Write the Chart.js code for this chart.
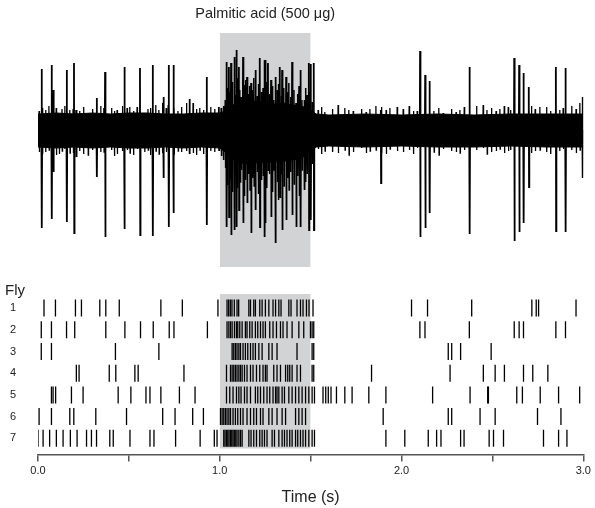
<!DOCTYPE html>
<html>
<head>
<meta charset="utf-8">
<script src="https://cdn.jsdelivr.net/npm/chart.js@4.4.1/dist/chart.umd.min.js"></script>
<style>
  body { margin: 0; background: #fff; width: 595px; height: 508px; position: relative; overflow: hidden; }
  #trace { position: absolute; left: 0; top: 0; }
  #raster { position: absolute; left: 0; top: 275px; }
</style>
</head>
<body>
<canvas id="trace" width="595" height="275"></canvas>
<canvas id="raster" width="595" height="233"></canvas>
<script>
// stimulus window (s)
const stimStart = 1.0;
const stimEnd = 1.5;
const stimLabel = "Palmitic acid (500 \u03bcg)";

// recording trace: large spikes (time, upward peak, downward peak)
const spikeTimes = [0.02, 0.075, 0.084, 0.158, 0.198, 0.21, 0.323, 0.369, 0.475, 0.561, 0.631, 0.69, 0.719, 0.745, 0.833, 0.928, 0.995,
  1.037, 1.05, 1.062, 1.08, 1.092, 1.105, 1.128, 1.15, 1.172, 1.196, 1.22, 1.246, 1.251, 1.265, 1.282, 1.306, 1.33, 1.343, 1.365, 1.398, 1.42, 1.444, 1.465, 1.49, 1.5, 1.517,
  1.886, 2.102, 2.13, 2.154, 2.374, 2.62, 2.647, 2.671, 2.70, 2.849, 2.902, 2.996];
const spikeUp = [61, 65, 40, 60, 67, 20, 32, 58, 63, 62, 65, 33, 65, 65, 31, 53, 23,
  68, 63, 67, 73, 80, 63, 73, 53, 47, 60, 72, 70, 70, 67, 50, 53, 63, 60, 53, 68, 27, 60, 30, 67, 66, 67,
  20, 79, 55, 49, 63, 72, 65, 57, 43, 63, 62, 33];
const spikeDown = [-98, -89, -42, -92, -103, -27, -47, -107, -99, -105, -106, -48, -97, -83, -24, -95, -20,
  -97, -87, -105, -100, -97, -80, -93, -73, -103, -80, -97, -107, -93, -40, -87, -113, -67, -100, -90, -85, -97, -97, -60, -100, -90, -100,
  -53, -107, -98, -83, -104, -111, -102, -93, -57, -101, -102, -48];

// recording trace: small noise peaks outside the stimulus
const noiseTimes = [0.006, 0.025, 0.042, 0.06, 0.1, 0.116, 0.132, 0.147, 0.175, 0.193, 0.229, 0.25, 0.275, 0.3, 0.345, 0.362, 0.404, 0.42, 0.435, 0.464, 0.49, 0.505, 0.525, 0.545, 0.587, 0.605, 0.619, 0.648, 0.665, 0.685, 0.705, 0.716, 0.747, 0.77, 0.789, 0.817, 0.853, 0.872, 0.89, 0.91, 0.95, 0.972,
  1.541, 1.56, 1.578, 1.62, 1.651, 1.688, 1.71, 1.734, 1.78, 1.805, 1.826, 1.859, 1.89, 1.915, 1.936, 1.976, 2.009, 2.042, 2.065, 2.086, 2.178, 2.205, 2.229, 2.275, 2.3, 2.321, 2.345, 2.413, 2.449, 2.47, 2.495, 2.52, 2.541, 2.565, 2.587, 2.6, 2.715, 2.735, 2.761, 2.798, 2.82, 2.87, 2.889, 2.936, 2.96, 2.981];
const noiseUp = [19, 22, 20, 24, 22, 15, 21, 24, 20, 21, 19, 23, 17, 21, 24, 22, 22, 19, 20, 24, 22, 23, 19, 23, 17, 21, 22, 25, 20, 27, 22, 25, 22, 19, 23, 27, 27, 21, 22, 20, 23, 21,
  20, 23, 18, 21, 25, 22, 20, 19, 21, 18, 21, 24, 23, 20, 22, 23, 21, 24, 19, 19, 19, 22, 17, 21, 18, 20, 23, 24, 25, 20, 22, 19, 21, 24, 23, 20, 24, 21, 23, 23, 19, 20, 22, 24, 21, 27];
const noiseDown = [-22, -24, -22, -20, -25, -24, -21, -19, -23, -23, -21, -24, -25, -20, -22, -22, -20, -26, -24, -21, -20, -23, -25, -19, -22, -20, -25, -21, -24, -23, -22, -20, -24, -21, -22, -21, -23, -25, -20, -24, -21, -22,
  -19, -24, -21, -22, -23, -20, -25, -22, -18, -23, -21, -20, -23, -24, -19, -21, -22, -20, -24, -18, -22, -25, -19, -21, -22, -23, -20, -20, -18, -24, -22, -21, -19, -23, -21, -20, -23, -21, -20, -22, -24, -21, -19, -20, -23, -20];

// recording trace: dense medium peaks during the stimulus
const stimNoiseTimes = [1.008, 1.02, 1.03, 1.043, 1.055, 1.07, 1.085, 1.098, 1.11, 1.118, 1.135, 1.142, 1.158, 1.165, 1.18, 1.188, 1.205, 1.212, 1.228, 1.238,
  1.258, 1.272, 1.29, 1.298, 1.315, 1.322, 1.338, 1.352, 1.372, 1.38, 1.39, 1.408, 1.428, 1.436, 1.452, 1.472, 1.48, 1.495, 1.508];
const stimNoiseUp = [22, 24, 30, 42, 38, 48, 35, 52, 40, 33, 45, 50, 36, 44, 40, 52, 34, 46, 38, 42,
  48, 36, 44, 30, 40, 46, 34, 42, 38, 47, 33, 40, 36, 44, 30, 42, 35, 38, 28];
const stimNoiseDown = [-26, -30, -38, -55, -48, -62, -45, -58, -52, -40, -66, -50, -44, -60, -48, -56, -42, -64, -50, -46,
  -58, -44, -62, -40, -52, -70, -45, -56, -48, -60, -42, -54, -46, -66, -40, -52, -44, -50, -34];

// recording trace: background noise band envelope
const envTimes = [0, 0.1, 0.2, 0.3, 0.4, 0.5, 0.6, 0.7, 0.8, 0.9, 1.0, 1.03, 1.06, 1.1, 1.15, 1.2, 1.25, 1.3, 1.35, 1.4, 1.45, 1.5, 1.53, 1.6, 1.8, 2.0, 2.2, 2.4, 2.6, 2.8, 3.0];
const envUpper = [16, 17, 16, 17, 16, 17, 17, 16, 16, 17, 17, 19, 24, 27, 28, 29, 27, 26, 27, 25, 24, 20, 16, 15, 16, 15, 16, 15, 16, 16, 16];
const envLower = [-17, -18, -17, -18, -17, -18, -18, -17, -18, -17, -18, -22, -28, -32, -34, -33, -32, -32, -31, -30, -28, -22, -17, -16, -17, -16, -17, -17, -16, -17, -17];

// raster: spike times per fly (s)
const flyLabels = ["1", "2", "3", "4", "5", "6", "7"];
const fly1 = [0.033, 0.096, 0.206, 0.239, 0.340, 0.373, 0.447, 0.676, 0.794, 0.99,
  1.040, 1.049, 1.058, 1.067, 1.080, 1.095, 1.104, 1.160, 1.169, 1.187, 1.196, 1.220, 1.233, 1.251, 1.270, 1.293, 1.307, 1.325, 1.337, 1.380, 1.392, 1.425, 1.444, 1.458, 1.477, 1.491, 1.513,
  2.055, 2.143, 2.386, 2.717, 2.741, 2.754, 2.960];
const fly2 = [0.018, 0.074, 0.157, 0.202, 0.373, 0.478, 0.564, 0.634, 0.722, 0.748, 0.932,
  1.040, 1.050, 1.059, 1.068, 1.081, 1.092, 1.099, 1.110, 1.123, 1.141, 1.150, 1.165, 1.178, 1.196, 1.209, 1.224, 1.238, 1.251, 1.275, 1.293, 1.312, 1.334, 1.348, 1.370, 1.398, 1.435, 1.462, 1.499, 1.508, 1.517,
  2.101, 2.129, 2.373, 2.620, 2.647, 2.671, 2.849, 2.902];
const fly3 = [0.018, 0.074, 0.426, 0.665,
  1.068, 1.077, 1.086, 1.095, 1.105, 1.114, 1.128, 1.141, 1.154, 1.169, 1.183, 1.196, 1.215, 1.233, 1.270, 1.288, 1.315, 1.425, 1.508, 1.517,
  2.257, 2.276, 2.325, 2.493];
const fly4 = [0.211, 0.226, 0.392, 0.428, 0.533, 0.551, 0.803,
  1.037, 1.059, 1.068, 1.077, 1.086, 1.095, 1.105, 1.114, 1.123, 1.136, 1.150, 1.169, 1.183, 1.202, 1.220, 1.238, 1.251, 1.260, 1.297, 1.315, 1.334, 1.362, 1.374, 1.385, 1.398, 1.425, 1.444, 1.508, 1.517,
  1.835, 2.267, 2.450, 2.515, 2.566, 2.671, 2.722, 2.805];
const fly5 = [0.074, 0.083, 0.097, 0.184, 0.248, 0.441, 0.511, 0.594, 0.616, 0.676, 0.778, 0.864,
  1.037, 1.055, 1.073, 1.092, 1.105, 1.117, 1.136, 1.150, 1.169, 1.196, 1.209, 1.224, 1.242, 1.260, 1.275, 1.293, 1.307, 1.315, 1.325, 1.343, 1.356, 1.380, 1.398, 1.417, 1.435, 1.453, 1.472, 1.490, 1.508, 1.521,
  1.568, 1.583, 1.597, 1.612, 1.642, 1.688, 1.728, 1.820, 1.914, 2.171, 2.377, 2.474, 2.478, 2.634, 2.665, 2.763, 2.864, 2.980];
const fly6 = [0.006, 0.074, 0.175, 0.197, 0.318, 0.487, 0.686, 0.754, 0.851, 0.910,
  1.004, 1.013, 1.022, 1.031, 1.040, 1.050, 1.059, 1.073, 1.086, 1.099, 1.114, 1.128, 1.150, 1.169, 1.187, 1.202, 1.224, 1.238, 1.270, 1.288, 1.315, 1.343, 1.362, 1.417, 1.435, 1.453, 1.472,
  1.899, 2.257, 2.276, 2.432, 2.515, 2.748, 2.877];
const fly7 = [0.0, 0.028, 0.064, 0.101, 0.138, 0.178, 0.215, 0.267, 0.294, 0.322, 0.395, 0.414, 0.506, 0.616, 0.638, 0.757, 0.892, 0.970, 0.985,
  1.022, 1.029, 1.037, 1.044, 1.051, 1.059, 1.066, 1.073, 1.080, 1.088, 1.095, 1.105, 1.114, 1.123, 1.160, 1.172, 1.187, 1.202, 1.220, 1.233, 1.246, 1.260, 1.288, 1.301, 1.325, 1.343, 1.356, 1.370, 1.385, 1.398, 1.417, 1.429, 1.444, 1.458, 1.472, 1.490, 1.508, 1.521,
  1.914, 2.018, 2.147, 2.193, 2.217, 2.325, 2.344, 2.482, 2.506, 2.561, 2.781, 2.864, 2.910];
const flies = [fly1, fly2, fly3, fly4, fly5, fly6, fly7];

const xTicks = [0, 0.5, 1, 1.5, 2, 2.5, 3];
const shade = "#d2d3d5";
const ink = "#000";
const font = "'Liberation Sans', Arial, sans-serif";

// each spike goes up then down and returns to baseline
function spikePoints(times, ups, downs) {
  const pts = [];
  times.forEach((t, i) => {
    pts.push({x: t - 0.0015, y: 0}, {x: t, y: ups[i]}, {x: t + 0.0015, y: downs[i]}, {x: t + 0.003, y: 0});
  });
  return pts;
}

const spikeData = spikePoints(spikeTimes, spikeUp, spikeDown);
const noiseData = spikePoints(noiseTimes, noiseUp, noiseDown);
const stimNoiseData = spikePoints(stimNoiseTimes, stimNoiseUp, stimNoiseDown);

const traceTitle = {
  id: "traceTitle",
  afterDraw(chart) {
    const ctx = chart.ctx;
    const x = chart.scales.x.getPixelForValue((stimStart + stimEnd) / 2);
    ctx.save();
    ctx.font = "14.5px " + font;
    ctx.fillStyle = "#222";
    ctx.textAlign = "center";
    ctx.textBaseline = "middle";
    ctx.fillText(stimLabel, x, 14);
    ctx.restore();
  }
};

function traceLine(data, width, order) {
  return {data: data, fill: false, borderColor: ink, borderWidth: width, pointRadius: 0, order: order};
}

new Chart(document.getElementById("trace"), {
  type: "line",
  data: {
    datasets: [
      {
        data: [{x: stimStart, y: 97}, {x: stimEnd, y: 97}],
        fill: {value: -137},
        backgroundColor: shade,
        borderWidth: 0,
        pointRadius: 0,
        order: 5
      },
      {
        data: envTimes.map((t, i) => ({x: t, y: envUpper[i]})),
        fill: "+1",
        backgroundColor: ink,
        borderColor: ink,
        borderWidth: 1,
        pointRadius: 0,
        order: 4
      },
      traceLine(envTimes.map((t, i) => ({x: t, y: envLower[i]})), 1, 4),
      traceLine(noiseData, 1.3, 3),
      traceLine(stimNoiseData, 1.5, 3),
      traceLine(spikeData, 1.8, 2)
    ]
  },
  options: {
    responsive: false,
    animation: false,
    layout: {padding: {left: 38, right: 11.7, top: 33, bottom: 8}},
    plugins: {legend: {display: false}, tooltip: {enabled: false}},
    scales: {
      x: {type: "linear", min: 0, max: 3, display: false},
      y: {type: "linear", min: -137, max: 97, display: false}
    }
  },
  plugins: [traceTitle]
});

const flyTitle = {
  id: "flyTitle",
  afterDraw(chart) {
    const ctx = chart.ctx;
    ctx.save();
    ctx.font = "15px " + font;
    ctx.fillStyle = "#222";
    ctx.textAlign = "left";
    ctx.textBaseline = "alphabetic";
    ctx.fillText("Fly", 5, 20);
    ctx.restore();
  }
};

const rasterSets = flies.map((times, i) => ({
  type: "scatter",
  data: times.map(t => ({x: t, y: i + 1})),
  pointStyle: "line",
  rotation: 90,
  pointRadius: 8.5,
  borderWidth: 1.3,
  borderColor: ink,
  backgroundColor: ink,
  order: 1
}));

new Chart(document.getElementById("raster"), {
  type: "scatter",
  data: {
    datasets: [
      {
        type: "line",
        data: [{x: stimStart, y: 0.35}, {x: stimEnd, y: 0.35}],
        fill: {value: 7.47},
        backgroundColor: shade,
        borderWidth: 0,
        pointRadius: 0,
        order: 5
      },
      ...rasterSets
    ]
  },
  options: {
    responsive: false,
    animation: false,
    layout: {padding: {left: 0, right: 11.7, top: 19, bottom: 0}},
    plugins: {legend: {display: false}, tooltip: {enabled: false}},
    scales: {
      x: {
        type: "linear",
        min: 0,
        max: 3,
        afterBuildTicks: s => { s.ticks = xTicks.map(v => ({value: v})); },
        ticks: {
          callback: v => Number.isInteger(v) ? v.toFixed(1) : "",
          font: {family: font, size: 11},
          color: "#222",
          padding: 3,
          maxRotation: 0,
          autoSkip: false
        },
        grid: {drawOnChartArea: false, tickLength: 7, color: "#555", lineWidth: 1.5},
        border: {color: "#555", width: 1.5},
        title: {display: true, text: "Time (s)", font: {family: font, size: 16}, color: "#222", padding: {top: 7, bottom: 1}}
      },
      y: {
        type: "linear",
        reverse: true,
        min: 0.35,
        max: 7.75,
        afterBuildTicks: s => { s.ticks = flyLabels.map((l, i) => ({value: i + 1})); },
        afterFit: s => { s.width = 38; s.paddingTop = 0; s.paddingBottom = 0; },
        ticks: {
          callback: (v, i) => flyLabels[i],
          font: {family: font, size: 11},
          color: "#222",
          padding: 22
        },
        grid: {display: false, drawTicks: false},
        border: {display: false}
      }
    }
  },
  plugins: [flyTitle]
});
</script>
</body>
</html>
